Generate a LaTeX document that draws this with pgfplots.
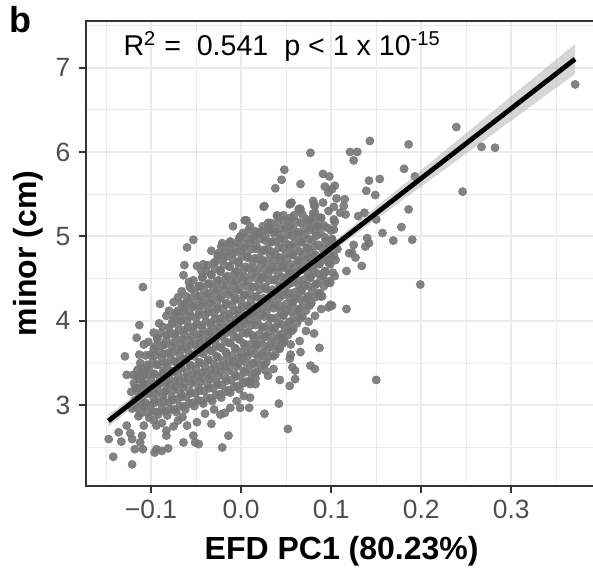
\documentclass[border=0pt]{standalone}
\usepackage{pgfplots}
\pgfplotsset{compat=1.18}
\usepackage{fontspec}
\setmainfont{Liberation Sans}

\definecolor{c333}{HTML}{333333}
\definecolor{g92}{HTML}{EBEBEB}
\definecolor{g30}{HTML}{4D4D4D}
\definecolor{ptc}{HTML}{767676}
\definecolor{band}{HTML}{999999}

\begin{document}
\begin{tikzpicture}
\begin{axis}[
    name=ax,
    set layers,
    scale only axis,
    width=253.65pt, height=232.5pt,
    xmin=-0.17256, xmax=0.39078,
    ymin=2.044, ymax=7.551,
    axis line style={draw=none},
    tick pos=left,
    tick align=outside,
    major tick length=3.5pt,
    minor tick length=0pt,
    every tick/.style={c333, line width=1pt},
    xtick={-0.1,0,0.1,0.2,0.3},
    xticklabels={−0.1,0.0,0.1,0.2,0.3},
    minor xtick={-0.15,-0.05,0.05,0.15,0.25,0.35},
    ytick={3,4,5,6,7},
    yticklabels={3,4,5,6,7},
    minor ytick={2.5,3.5,4.5,5.5,6.5,7.5},
    grid=both,
    major grid style={g92, line width=1pt},
    minor grid style={g92, line width=0.5pt},
    xticklabel style={font=\fontsize{13.2}{15}\selectfont, text=g30, anchor=north, inner sep=0pt, yshift=-3.5pt},
    yticklabel style={font=\fontsize{13.2}{15}\selectfont, text=g30, anchor=east, inner sep=0pt, xshift=-4pt},
    xlabel={EFD PC1 (80.23\%)},
    ylabel={minor (cm)},
    every axis x label/.style={at={(axis description cs:0.5046,-0.157)}, anchor=base, inner sep=0pt, font=\fontsize{16}{19}\bfseries\selectfont},
    every axis y label/.style={at={(axis description cs:-0.1137,0.5)}, rotate=90, anchor=center, inner sep=0pt, font=\fontsize{16}{19}\bfseries\selectfont},
]

% points
\addplot[only marks, mark=*, mark size=2.05pt,
         mark options={fill=ptc, draw=ptc, line width=0.3pt, fill opacity=0.9, draw opacity=0.9}]
coordinates {
% dense core, column by column
(-0.121,2.96) (-0.118,3.06) (-0.122,3.16) (-0.119,3.26) (-0.120,3.36)
(-0.112,2.90) (-0.108,2.98) (-0.111,3.05) (-0.107,3.13) (-0.113,3.20) (-0.109,3.27) (-0.110,3.35) (-0.106,3.42) (-0.112,3.50)
(-0.102,2.85) (-0.098,2.93) (-0.101,3.00) (-0.097,3.08) (-0.103,3.15) (-0.099,3.22) (-0.100,3.30) (-0.096,3.37) (-0.102,3.45) (-0.098,3.52) (-0.101,3.60) (-0.097,3.67) (-0.103,3.75)
(-0.092,2.89) (-0.088,2.96) (-0.091,3.04) (-0.087,3.11) (-0.093,3.19) (-0.089,3.26) (-0.090,3.33) (-0.086,3.41) (-0.092,3.48) (-0.088,3.56) (-0.091,3.63) (-0.087,3.71) (-0.093,3.78) (-0.089,3.86)
(-0.082,2.88) (-0.078,2.95) (-0.081,3.03) (-0.077,3.10) (-0.083,3.18) (-0.079,3.25) (-0.080,3.32) (-0.076,3.40) (-0.082,3.47) (-0.078,3.55) (-0.081,3.62) (-0.077,3.70) (-0.083,3.77) (-0.079,3.85) (-0.080,3.92) (-0.076,4.00)
(-0.072,2.92) (-0.068,2.99) (-0.071,3.07) (-0.067,3.14) (-0.073,3.22) (-0.069,3.29) (-0.070,3.36) (-0.066,3.44) (-0.072,3.51) (-0.068,3.59) (-0.071,3.66) (-0.067,3.74) (-0.073,3.81) (-0.069,3.89) (-0.070,3.96) (-0.066,4.04) (-0.072,4.10)
(-0.062,2.95) (-0.058,3.02) (-0.061,3.10) (-0.057,3.17) (-0.063,3.25) (-0.059,3.32) (-0.060,3.39) (-0.056,3.47) (-0.062,3.54) (-0.058,3.62) (-0.061,3.69) (-0.057,3.77) (-0.063,3.84) (-0.059,3.92) (-0.060,3.99) (-0.056,4.07) (-0.062,4.14) (-0.058,4.22) (-0.061,4.29)
(-0.052,2.99) (-0.048,3.06) (-0.051,3.14) (-0.047,3.21) (-0.053,3.29) (-0.049,3.36) (-0.050,3.43) (-0.046,3.51) (-0.052,3.58) (-0.048,3.66) (-0.051,3.73) (-0.047,3.81) (-0.053,3.88) (-0.049,3.96) (-0.050,4.03) (-0.046,4.11) (-0.052,4.18) (-0.048,4.26) (-0.051,4.33) (-0.047,4.41) (-0.053,4.48)
(-0.042,3.02) (-0.038,3.09) (-0.041,3.17) (-0.037,3.24) (-0.043,3.32) (-0.039,3.39) (-0.040,3.46) (-0.036,3.54) (-0.042,3.61) (-0.038,3.69) (-0.041,3.76) (-0.037,3.84) (-0.043,3.91) (-0.039,3.99) (-0.040,4.06) (-0.036,4.14) (-0.042,4.21) (-0.038,4.29) (-0.041,4.36) (-0.037,4.44) (-0.043,4.51) (-0.039,4.59)
(-0.032,3.05) (-0.028,3.12) (-0.031,3.20) (-0.027,3.27) (-0.033,3.35) (-0.029,3.42) (-0.030,3.49) (-0.026,3.57) (-0.032,3.64) (-0.028,3.72) (-0.031,3.79) (-0.027,3.87) (-0.033,3.94) (-0.029,4.02) (-0.030,4.09) (-0.026,4.17) (-0.032,4.24) (-0.028,4.32) (-0.031,4.39) (-0.027,4.47) (-0.033,4.54) (-0.029,4.62) (-0.030,4.69) (-0.026,4.77)
(-0.022,3.09) (-0.018,3.16) (-0.021,3.24) (-0.017,3.31) (-0.023,3.39) (-0.019,3.46) (-0.020,3.53) (-0.016,3.61) (-0.022,3.68) (-0.018,3.76) (-0.021,3.83) (-0.017,3.91) (-0.023,3.98) (-0.019,4.06) (-0.020,4.13) (-0.016,4.21) (-0.022,4.28) (-0.018,4.36) (-0.021,4.43) (-0.017,4.51) (-0.023,4.58) (-0.019,4.66) (-0.020,4.73) (-0.016,4.81) (-0.022,4.88)
(-0.012,3.15) (-0.008,3.22) (-0.011,3.30) (-0.007,3.37) (-0.013,3.45) (-0.009,3.52) (-0.010,3.59) (-0.006,3.67) (-0.012,3.74) (-0.008,3.82) (-0.011,3.89) (-0.007,3.97) (-0.013,4.04) (-0.009,4.12) (-0.010,4.19) (-0.006,4.27) (-0.012,4.34) (-0.008,4.42) (-0.011,4.49) (-0.007,4.57) (-0.013,4.64) (-0.009,4.72) (-0.010,4.79) (-0.006,4.87) (-0.012,4.94)
(-0.002,3.19) (0.002,3.26) (-0.001,3.34) (0.003,3.41) (-0.003,3.49) (0.001,3.56) (0.000,3.63) (0.004,3.71) (-0.002,3.78) (0.002,3.86) (-0.001,3.93) (0.003,4.01) (-0.003,4.08) (0.001,4.16) (0.000,4.23) (0.004,4.31) (-0.002,4.38) (0.002,4.46) (-0.001,4.53) (0.003,4.61) (-0.003,4.68) (0.001,4.76) (0.000,4.83) (0.004,4.91) (-0.002,4.98) (0.002,5.04)
(0.008,3.28) (0.012,3.35) (0.009,3.43) (0.013,3.50) (0.007,3.58) (0.011,3.65) (0.010,3.72) (0.014,3.80) (0.008,3.87) (0.012,3.95) (0.009,4.02) (0.013,4.10) (0.007,4.17) (0.011,4.25) (0.010,4.32) (0.014,4.40) (0.008,4.47) (0.012,4.55) (0.009,4.62) (0.013,4.70) (0.007,4.77) (0.011,4.85) (0.010,4.92) (0.014,5.00) (0.008,5.07)
(0.018,3.40) (0.022,3.47) (0.019,3.55) (0.023,3.62) (0.017,3.70) (0.021,3.77) (0.020,3.84) (0.024,3.92) (0.018,3.99) (0.022,4.07) (0.019,4.14) (0.023,4.22) (0.017,4.29) (0.021,4.37) (0.020,4.44) (0.024,4.52) (0.018,4.59) (0.022,4.67) (0.019,4.74) (0.023,4.82) (0.017,4.89) (0.021,4.97) (0.020,5.04) (0.024,5.12)
(0.028,3.51) (0.032,3.58) (0.029,3.66) (0.033,3.73) (0.027,3.81) (0.031,3.88) (0.030,3.95) (0.034,4.03) (0.028,4.10) (0.032,4.18) (0.029,4.25) (0.033,4.33) (0.027,4.40) (0.031,4.48) (0.030,4.55) (0.034,4.63) (0.028,4.70) (0.032,4.78) (0.029,4.85) (0.033,4.93) (0.027,5.00) (0.031,5.08) (0.030,5.16)
(0.038,3.60) (0.042,3.67) (0.039,3.75) (0.043,3.82) (0.037,3.90) (0.041,3.97) (0.040,4.04) (0.044,4.12) (0.038,4.19) (0.042,4.27) (0.039,4.34) (0.043,4.42) (0.037,4.49) (0.041,4.57) (0.040,4.64) (0.044,4.72) (0.038,4.79) (0.042,4.87) (0.039,4.94) (0.043,5.02) (0.037,5.09) (0.041,5.17) (0.040,5.24)
(0.048,3.76) (0.052,3.83) (0.049,3.91) (0.053,3.98) (0.047,4.06) (0.051,4.13) (0.050,4.20) (0.054,4.28) (0.048,4.35) (0.052,4.43) (0.049,4.50) (0.053,4.58) (0.047,4.65) (0.051,4.73) (0.050,4.80) (0.054,4.88) (0.048,4.95) (0.052,5.03) (0.049,5.10) (0.053,5.18) (0.047,5.25)
(0.058,3.90) (0.062,3.97) (0.059,4.05) (0.063,4.12) (0.057,4.20) (0.061,4.27) (0.060,4.34) (0.064,4.42) (0.058,4.49) (0.062,4.57) (0.059,4.64) (0.063,4.72) (0.057,4.79) (0.061,4.87) (0.060,4.94) (0.064,5.02) (0.058,5.09) (0.062,5.17) (0.059,5.25)
(0.068,4.05) (0.072,4.12) (0.069,4.20) (0.073,4.27) (0.067,4.35) (0.071,4.42) (0.070,4.49) (0.074,4.57) (0.068,4.64) (0.072,4.72) (0.069,4.79) (0.073,4.87) (0.067,4.94) (0.071,5.02) (0.070,5.09) (0.074,5.17) (0.068,5.26)
(0.078,4.21) (0.082,4.28) (0.079,4.36) (0.083,4.43) (0.077,4.51) (0.081,4.58) (0.080,4.65) (0.084,4.73) (0.078,4.80) (0.082,4.88) (0.079,4.95) (0.083,5.03) (0.077,5.10) (0.081,5.18) (0.080,5.27)
(0.088,4.32) (0.092,4.41) (0.089,4.50) (0.093,4.59) (0.087,4.68) (0.091,4.77) (0.090,4.86) (0.094,4.95) (0.088,5.04) (0.092,5.13) (0.089,5.22)
(0.098,4.47) (0.102,4.57) (0.099,4.67) (0.103,4.77) (0.097,4.87) (0.101,4.97) (0.100,5.07) (0.104,5.17)
% dense core, between the columns
(-0.116,2.97) (-0.114,3.09) (-0.117,3.20) (-0.113,3.31) (-0.115,3.42)
(-0.104,2.91) (-0.106,3.03) (-0.103,3.14) (-0.107,3.25) (-0.105,3.36) (-0.104,3.48) (-0.106,3.59)
(-0.094,2.92) (-0.096,3.03) (-0.095,3.14) (-0.093,3.26) (-0.097,3.37) (-0.094,3.48) (-0.096,3.59) (-0.095,3.70) (-0.093,3.80)
(-0.084,2.93) (-0.086,3.05) (-0.085,3.16) (-0.083,3.27) (-0.087,3.38) (-0.084,3.50) (-0.086,3.61) (-0.085,3.72) (-0.083,3.83) (-0.087,3.93)
(-0.074,2.95) (-0.076,3.06) (-0.075,3.18) (-0.073,3.29) (-0.077,3.40) (-0.074,3.52) (-0.076,3.63) (-0.075,3.74) (-0.073,3.85) (-0.077,3.96) (-0.074,4.05)
(-0.064,2.99) (-0.066,3.10) (-0.065,3.21) (-0.063,3.33) (-0.067,3.44) (-0.064,3.55) (-0.066,3.66) (-0.065,3.78) (-0.063,3.89) (-0.067,4.00) (-0.064,4.11) (-0.066,4.20)
(-0.054,3.03) (-0.056,3.14) (-0.055,3.26) (-0.053,3.37) (-0.057,3.48) (-0.054,3.60) (-0.056,3.71) (-0.055,3.82) (-0.053,3.93) (-0.057,4.05) (-0.054,4.16) (-0.056,4.27) (-0.055,4.38)
(-0.044,3.05) (-0.046,3.17) (-0.045,3.28) (-0.043,3.39) (-0.047,3.50) (-0.044,3.62) (-0.046,3.73) (-0.045,3.84) (-0.043,3.95) (-0.047,4.07) (-0.044,4.18) (-0.046,4.29) (-0.045,4.41) (-0.043,4.52)
(-0.034,3.08) (-0.036,3.20) (-0.035,3.31) (-0.033,3.42) (-0.037,3.53) (-0.034,3.65) (-0.036,3.76) (-0.035,3.87) (-0.033,3.98) (-0.037,4.10) (-0.034,4.21) (-0.036,4.32) (-0.035,4.44) (-0.033,4.55) (-0.037,4.66)
(-0.024,3.13) (-0.026,3.24) (-0.025,3.35) (-0.023,3.47) (-0.027,3.58) (-0.024,3.69) (-0.026,3.81) (-0.025,3.92) (-0.023,4.03) (-0.027,4.14) (-0.024,4.26) (-0.026,4.37) (-0.025,4.48) (-0.023,4.60) (-0.027,4.71) (-0.024,4.81)
(-0.014,3.18) (-0.016,3.29) (-0.015,3.40) (-0.013,3.52) (-0.017,3.63) (-0.014,3.74) (-0.016,3.86) (-0.015,3.97) (-0.013,4.08) (-0.017,4.19) (-0.014,4.31) (-0.016,4.42) (-0.015,4.53) (-0.013,4.65) (-0.017,4.76) (-0.014,4.87)
(-0.004,3.23) (-0.006,3.34) (-0.005,3.46) (-0.003,3.57) (-0.007,3.68) (-0.004,3.80) (-0.006,3.91) (-0.005,4.02) (-0.003,4.13) (-0.007,4.25) (-0.004,4.36) (-0.006,4.47) (-0.005,4.59) (-0.003,4.70) (-0.007,4.81) (-0.004,4.93)
(0.006,3.28) (0.004,3.39) (0.005,3.51) (0.007,3.62) (0.003,3.73) (0.006,3.85) (0.004,3.96) (0.005,4.07) (0.007,4.18) (0.003,4.30) (0.006,4.41) (0.004,4.52) (0.005,4.64) (0.007,4.75) (0.003,4.86) (0.006,4.98)
(0.016,3.38) (0.014,3.49) (0.015,3.61) (0.017,3.72) (0.013,3.83) (0.016,3.95) (0.014,4.06) (0.015,4.17) (0.017,4.28) (0.013,4.40) (0.016,4.51) (0.014,4.62) (0.015,4.74) (0.017,4.85) (0.013,4.96) (0.016,5.06)
(0.026,3.48) (0.024,3.59) (0.025,3.71) (0.027,3.82) (0.023,3.93) (0.026,4.05) (0.024,4.16) (0.025,4.27) (0.027,4.38) (0.023,4.50) (0.026,4.61) (0.024,4.72) (0.025,4.84) (0.027,4.95) (0.023,5.06)
(0.036,3.58) (0.034,3.69) (0.035,3.81) (0.037,3.92) (0.033,4.03) (0.036,4.15) (0.034,4.26) (0.035,4.37) (0.037,4.48) (0.033,4.60) (0.036,4.71) (0.034,4.82) (0.035,4.94) (0.037,5.05) (0.033,5.16)
(0.046,3.73) (0.044,3.84) (0.045,3.96) (0.047,4.07) (0.043,4.18) (0.046,4.30) (0.044,4.41) (0.045,4.52) (0.047,4.63) (0.043,4.75) (0.046,4.86) (0.044,4.97) (0.045,5.09) (0.047,5.19)
(0.056,3.88) (0.054,3.99) (0.055,4.11) (0.057,4.22) (0.053,4.33) (0.056,4.45) (0.054,4.56) (0.055,4.67) (0.057,4.78) (0.053,4.90) (0.056,5.01) (0.054,5.12) (0.055,5.22)
(0.066,4.03) (0.064,4.14) (0.065,4.26) (0.067,4.37) (0.063,4.48) (0.066,4.60) (0.064,4.71) (0.065,4.82) (0.067,4.93) (0.063,5.05) (0.066,5.16)
(0.076,4.18) (0.074,4.29) (0.075,4.41) (0.077,4.52) (0.073,4.63) (0.076,4.75) (0.074,4.86) (0.075,4.97) (0.077,5.08) (0.073,5.20)
(0.086,4.33) (0.084,4.44) (0.085,4.56) (0.087,4.67) (0.083,4.78) (0.086,4.90) (0.084,5.01) (0.085,5.12)
(0.096,4.45) (0.094,4.58) (0.095,4.72) (0.097,4.85) (0.093,4.99) (0.096,5.10)
% fringe, lower left
(-0.109,4.40) (-0.090,4.20) (-0.080,4.12) (-0.070,4.12) (-0.063,4.20) (-0.083,4.06)
(-0.091,3.97) (-0.113,3.95) (-0.116,3.80) (-0.108,3.72) (-0.097,3.86)
(-0.129,3.58) (-0.113,3.60) (-0.127,3.36) (-0.116,3.35) (-0.110,3.43) (-0.108,3.37)
(-0.108,3.21) (-0.114,3.15) (-0.118,3.01) (-0.108,2.99)
(-0.114,2.87) (-0.108,2.76) (-0.097,2.82)
(-0.127,2.76) (-0.123,2.67) (-0.136,2.68) (-0.147,2.60) (-0.133,2.57) (-0.121,2.60)
(-0.110,2.64) (-0.112,2.56) (-0.118,2.48) (-0.109,2.48) (-0.142,2.39) (-0.121,2.30)
(-0.094,2.48) (-0.088,2.46) (-0.081,2.49) (-0.096,2.44)
(-0.083,2.70) (-0.083,2.64) (-0.094,2.76) (-0.088,2.79) (-0.070,2.82) (-0.075,2.75)
(-0.064,2.56) (-0.053,2.64) (-0.051,2.56) (-0.047,2.54)
(-0.060,2.76) (-0.049,2.80) (-0.033,2.78) (-0.065,2.86)
(-0.014,2.64) (-0.021,2.50)
(-0.040,2.90) (-0.023,2.89) (-0.018,2.91) (-0.012,2.97) (-0.030,2.95) (-0.005,3.05) (0.003,3.11) (0.010,3.09) (-0.001,2.97) (0.009,2.97) (0.016,3.32) (0.010,3.25)
% fringe, lower right
(0.026,2.90) (0.042,3.02) (0.052,2.72)
(0.036,3.43) (0.027,3.41) (0.030,3.35) (0.016,3.25)
(0.060,3.31) (0.054,3.23) (0.043,3.30) (0.150,3.30)
(0.077,3.47) (0.082,3.43) (0.087,3.68)
(0.054,3.55) (0.055,3.60) (0.057,3.45) (0.060,3.41) (0.055,3.72) (0.053,3.88) (0.047,3.79) (0.043,3.67) (0.066,3.63) (0.065,3.76)
(0.082,4.06) (0.075,3.99) (0.072,3.88) (0.081,3.85)
(0.090,4.29) (0.089,4.14) (0.097,4.16) (0.101,4.18) (0.117,4.14)
(0.199,4.43) (0.134,4.65) (0.117,4.59)
(0.097,4.69) (0.084,4.67) (0.091,4.53) (0.104,4.53) (0.099,4.45)
(0.088,4.29) (0.099,4.19)
% fringe, right and upper right
(0.101,4.96) (0.099,4.88) (0.099,4.79) (0.107,4.85) (0.105,4.72)
(0.125,4.90) (0.123,4.81) (0.127,4.75) (0.120,4.80)
(0.140,4.98) (0.142,4.92) (0.138,4.88)
(0.103,5.20) (0.103,5.08) (0.106,5.45) (0.103,5.35) (0.104,5.60)
(0.115,5.44) (0.114,5.36) (0.110,5.28) (0.116,5.26)
(0.091,5.40) (0.082,5.36) (0.080,5.42)
(0.097,5.30) (0.088,5.22) (0.086,5.12)
(0.056,5.40) (0.066,5.32) (0.077,5.20) (0.081,5.38) (0.055,5.39) (0.065,5.33)
(0.137,5.28) (0.130,5.24)
(0.150,5.20) (0.157,5.04) (0.169,4.95) (0.190,4.96) (0.178,5.11) (0.186,5.32)
(0.149,5.49) (0.139,5.54) (0.142,5.66) (0.154,5.68) (0.193,5.71) (0.181,5.80)
(0.125,5.90) (0.121,6.00) (0.129,6.00) (0.143,6.13) (0.186,6.09) (0.077,5.99)
(0.239,6.295) (0.267,6.06) (0.282,6.05) (0.246,5.53) (0.371,6.80)
(0.048,5.79) (0.045,5.67) (0.066,5.62) (0.038,5.57)
(0.091,5.74) (0.098,5.71) (0.093,5.59) (0.101,5.56) (0.097,5.52)
(0.026,5.36) (0.040,5.25) (0.054,5.38) (0.064,5.32) (0.081,5.37) (0.082,5.28)
% fringe, upper left
(0.006,5.19) (-0.009,5.12) (0.010,5.12) (0.025,5.35) (0.004,5.19)
(-0.053,4.96) (-0.060,4.87) (-0.063,4.66) (-0.064,4.54)
(-0.042,4.67) (-0.049,4.65) (-0.044,4.59)
(-0.021,4.92) (-0.013,4.92) (-0.033,4.83) (-0.025,4.77)
(-0.001,5.00) (0.019,5.04) (0.030,5.10) (0.036,5.04)
(-0.057,4.40) (-0.046,4.41) (-0.066,4.35) (-0.075,4.22) (-0.070,4.28) (-0.058,4.46)
};

% confidence band
\addplot[on layer=axis foreground, draw=none, fill=band, fill opacity=0.4] coordinates {
(-0.1474,2.888) (-0.1,3.259) (-0.05,3.651) (0,4.054) (0.05,4.479) (0.1,4.913)
(0.15,5.349) (0.2,5.786) (0.25,6.223) (0.3,6.660) (0.3708,7.278)
(0.3708,6.922) (0.3,6.370) (0.25,5.981) (0.2,5.590) (0.15,5.201) (0.1,4.809)
(0.05,4.417) (0,4.014) (-0.05,3.589) (-0.1,3.155) (-0.1474,2.742)
};

% fitted line
\addplot[on layer=axis foreground, black, line width=2.4pt] coordinates {(-0.1474,2.815) (0.3708,7.100)};

\node[anchor=base west, inner sep=0pt, font=\fontsize{14.3}{17}\selectfont]
  at (axis cs:-0.131,7.14) {R\textsuperscript{2} =\ \ 0.541\ \ p < 1 x 10\textsuperscript{-15}};
\end{axis}

\draw[c333, line width=1pt] (ax.south east) -- (ax.south west) -- (ax.north west) -- (ax.north east);
\node[anchor=base west, inner sep=0pt, font=\fontsize{18}{20}\bfseries\selectfont]
  at ([xshift=-38.35pt, yshift=-6pt]ax.north west) {b};

\pgfresetboundingbox
\useasboundingbox ([xshift=-42.85pt, yshift=-41pt]ax.south west) rectangle ([yshift=10.5pt]ax.north east);
\end{tikzpicture}
\end{document}
